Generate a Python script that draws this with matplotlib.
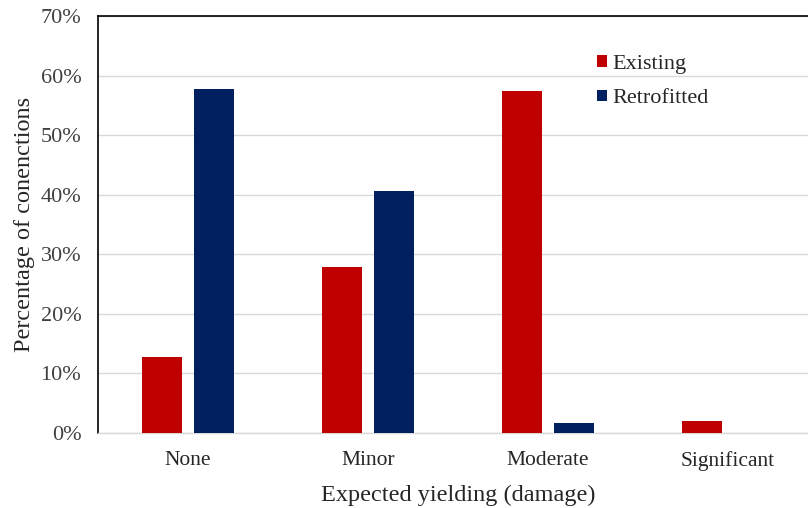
import matplotlib
matplotlib.use("Agg")
import matplotlib.pyplot as plt
import numpy as np
from matplotlib.ticker import FuncFormatter

categories = ["None", "Minor", "Moderate", "Significant"]
existing = [12.7, 27.8, 57.4, 2.0]
retrofitted = [57.7, 40.6, 1.7, 0.0]
series_names = ["Existing", "Retrofitted"]
yticks = [0, 10, 20, 30, 40, 50, 60, 70]

plt.rcParams['font.family'] = ['Liberation Serif', 'DejaVu Serif']

fig = plt.figure(figsize=(8.08, 5.08), dpi=100)
ax = fig.add_axes([98/808, 1-433/508, 720/808, (433-16)/508])

x = np.arange(len(categories))
w = 0.222
off = 0.142
ax.bar(x - off, existing, w, color="#C00000", label=series_names[0], zorder=3)
ax.bar(x + off, retrofitted, w, color="#002060", label=series_names[1], zorder=3)

ax.set_xlim(-0.5, 3.5)
ax.set_ylim(0, 70)
ax.set_yticks(yticks)
ax.yaxis.set_major_formatter(FuncFormatter(lambda v, p: f"{int(v)}%"))
ax.set_xticks(x)
ax.set_xticklabels(categories)
ax.grid(axis='y', color="#D9D9D9", linewidth=1, zorder=0)
ax.set_axisbelow(True)

for s in ["top", "left"]:
    ax.spines[s].set_color("black")
    ax.spines[s].set_linewidth(1.2)
ax.spines["right"].set_visible(False)
ax.spines["bottom"].set_color("#D9D9D9")
ax.spines["bottom"].set_linewidth(1)

ax.tick_params(axis='y', length=0, pad=12, labelsize=16, labelcolor="#404040")
ax.tick_params(axis='x', length=0, pad=13, labelsize=15.5, labelcolor="#262626")

ax.set_xlabel("Expected yielding (damage)", fontsize=17.5, color="#262626", labelpad=10)
ax.set_ylabel("Percentage of conenctions", fontsize=17.5, color="#262626", labelpad=4)

leg = ax.legend(loc="upper left", bbox_to_anchor=(490/720, 1-30/417), frameon=False,
                fontsize=16, handlelength=0.45, handleheight=0.45, handletextpad=0.25,
                labelspacing=0.7, borderaxespad=0)
for t in leg.get_texts():
    t.set_color("#262626")

fig.savefig("out.png", dpi=100)
